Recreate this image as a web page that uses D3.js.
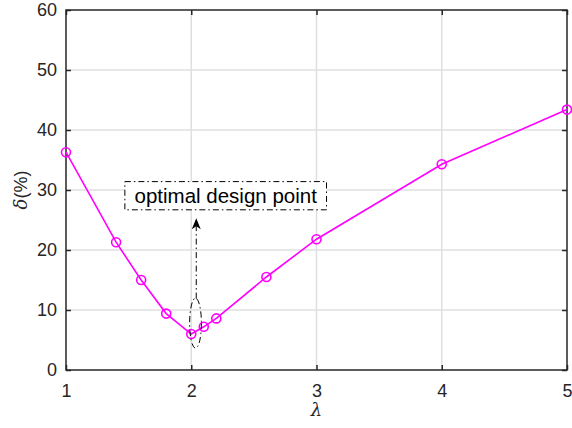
<!DOCTYPE html>
<html>
<head>
<meta charset="utf-8">
<script src="https://cdn.jsdelivr.net/npm/d3@7"></script>
<style>
  html, body { margin: 0; padding: 0; background: #fff; }
  svg { display: block; font-family: "Liberation Sans", Arial, Helvetica, sans-serif; }
</style>
</head>
<body>
<svg id="chart" width="572" height="428"></svg>
<script>
// Ratio lambda against error delta (%)
const lambdaValues = [1.0, 1.4, 1.6, 1.8, 2.0, 2.1, 2.2, 2.6, 3.0, 4.0, 5.0];
const deltaValues  = [36.3, 21.3, 15.0, 9.4, 6.0, 7.2, 8.6, 15.5, 21.8, 34.3, 43.4];

const xTicks = [1, 2, 3, 4, 5];
const yTicks = [0, 10, 20, 30, 40, 50, 60];

// Annotation geometry in data units
const noteText = "optimal design point";
const noteBox = { x0: 1.47, x1: 3.08, y0: 26.7, y1: 31.4 };
const noteArrow = { x: 2.04, yFrom: 11.9, yTo: 25.3 };
const noteEllipse = { cx: 2.034, cy: 7.8, rx: 0.047, ry: 4.17 };

const svg = d3.select("#chart");
const margin = { left: 66, right: 5, top: 10, bottom: 58 };
const W = 572, H = 428;

const x = d3.scaleLinear().domain([1, 5]).range([margin.left, W - margin.right]);
const y = d3.scaleLinear().domain([0, 60]).range([H - margin.bottom, margin.top]);

const axisColor = "#262626";
const gridColor = "#dfdfdf";
const tickFont = 18;

// Grid
const grid = svg.append("g");
grid.selectAll("line.gx").data(xTicks.slice(1, -1)).join("line")
  .attr("x1", d => x(d)).attr("x2", d => x(d))
  .attr("y1", y(0)).attr("y2", y(60))
  .attr("stroke", gridColor).attr("stroke-width", 1.5);
grid.selectAll("line.gy").data(yTicks.slice(1, -1)).join("line")
  .attr("x1", x(1)).attr("x2", x(5))
  .attr("y1", d => y(d)).attr("y2", d => y(d))
  .attr("stroke", gridColor).attr("stroke-width", 1.5);

// Axes with inward ticks on all four sides
function styleAxis(g) {
  g.select(".domain").remove();
  g.selectAll(".tick line").attr("stroke", axisColor).attr("stroke-width", 1.5);
  g.selectAll("text").attr("fill", axisColor).attr("font-size", tickFont);
}
svg.append("g").attr("transform", `translate(0,${y(0)})`)
  .call(d3.axisBottom(x).tickValues(xTicks).tickFormat(d3.format("d")).tickSizeInner(-5).tickSizeOuter(0).tickPadding(14))
  .call(styleAxis);
svg.append("g").attr("transform", `translate(0,${y(60)})`)
  .call(d3.axisTop(x).tickValues(xTicks).tickFormat("").tickSizeInner(-5).tickSizeOuter(0))
  .call(styleAxis);
svg.append("g").attr("transform", `translate(${x(1)},0)`)
  .call(d3.axisLeft(y).tickValues(yTicks).tickFormat(d3.format("d")).tickSizeInner(-5).tickSizeOuter(0).tickPadding(9))
  .call(styleAxis);
svg.append("g").attr("transform", `translate(${x(5)},0)`)
  .call(d3.axisRight(y).tickValues(yTicks).tickFormat("").tickSizeInner(-5).tickSizeOuter(0))
  .call(styleAxis);

// Frame
svg.append("rect")
  .attr("x", x(1)).attr("y", y(60))
  .attr("width", x(5) - x(1)).attr("height", y(0) - y(60))
  .attr("fill", "none").attr("stroke", axisColor).attr("stroke-width", 1.5);

// Axis labels
svg.append("text")
  .attr("x", (x(1) + x(5)) / 2).attr("y", 416)
  .attr("text-anchor", "middle").attr("font-size", 18).attr("font-style", "italic")
  .attr("font-family", "'DejaVu Serif', serif")
  .attr("fill", axisColor).text("λ");
svg.append("text")
  .attr("transform", `translate(27,${(y(0) + y(60)) / 2}) rotate(-90)`)
  .attr("text-anchor", "middle").attr("font-size", 18).attr("fill", axisColor)
  .call(t => {
    t.append("tspan").attr("font-style", "italic").attr("font-family", "'DejaVu Serif', serif").text("δ");
    t.append("tspan").text("(%)");
  });

// Data line and markers
const lineData = lambdaValues.map((l, i) => [l, deltaValues[i]]);
svg.append("path")
  .datum(lineData)
  .attr("fill", "none").attr("stroke", "#ff00ff").attr("stroke-width", 1.6)
  .attr("d", d3.line().x(d => x(d[0])).y(d => y(d[1])));
svg.selectAll("circle.pt").data(lineData).join("circle")
  .attr("class", "pt")
  .attr("cx", d => x(d[0])).attr("cy", d => y(d[1])).attr("r", 4.5)
  .attr("fill", "none").attr("stroke", "#ff00ff").attr("stroke-width", 1.6);

// Annotation: ellipse, arrow and text box
const dashDot = "6,3,1.5,3";
svg.append("ellipse")
  .attr("cx", x(noteEllipse.cx)).attr("cy", y(noteEllipse.cy))
  .attr("rx", x(1 + noteEllipse.rx) - x(1)).attr("ry", y(0) - y(noteEllipse.ry))
  .attr("fill", "none").attr("stroke", "#000").attr("stroke-width", 1).attr("stroke-dasharray", dashDot);

svg.append("line")
  .attr("x1", x(noteArrow.x)).attr("x2", x(noteArrow.x))
  .attr("y1", y(noteArrow.yFrom)).attr("y2", y(noteArrow.yTo) + 8)
  .attr("stroke", "#000").attr("stroke-width", 1).attr("stroke-dasharray", dashDot);
const ax = x(noteArrow.x), ay = y(noteArrow.yTo);
svg.append("path")
  .attr("d", `M${ax},${ay} L${ax + 4.5},${ay + 11} L${ax},${ay + 8} L${ax - 4.5},${ay + 11} Z`)
  .attr("fill", "#000");

svg.append("rect")
  .attr("x", x(noteBox.x0)).attr("y", y(noteBox.y1))
  .attr("width", x(noteBox.x1) - x(noteBox.x0)).attr("height", y(noteBox.y0) - y(noteBox.y1))
  .attr("fill", "#fff").attr("stroke", "#000").attr("stroke-width", 1).attr("stroke-dasharray", dashDot);
svg.append("text")
  .attr("x", (x(noteBox.x0) + x(noteBox.x1)) / 2)
  .attr("y", (y(noteBox.y0) + y(noteBox.y1)) / 2)
  .attr("dy", "0.35em")
  .attr("text-anchor", "middle").attr("font-size", 20.5).attr("fill", "#000")
  .text(noteText);
</script>
</body>
</html>
